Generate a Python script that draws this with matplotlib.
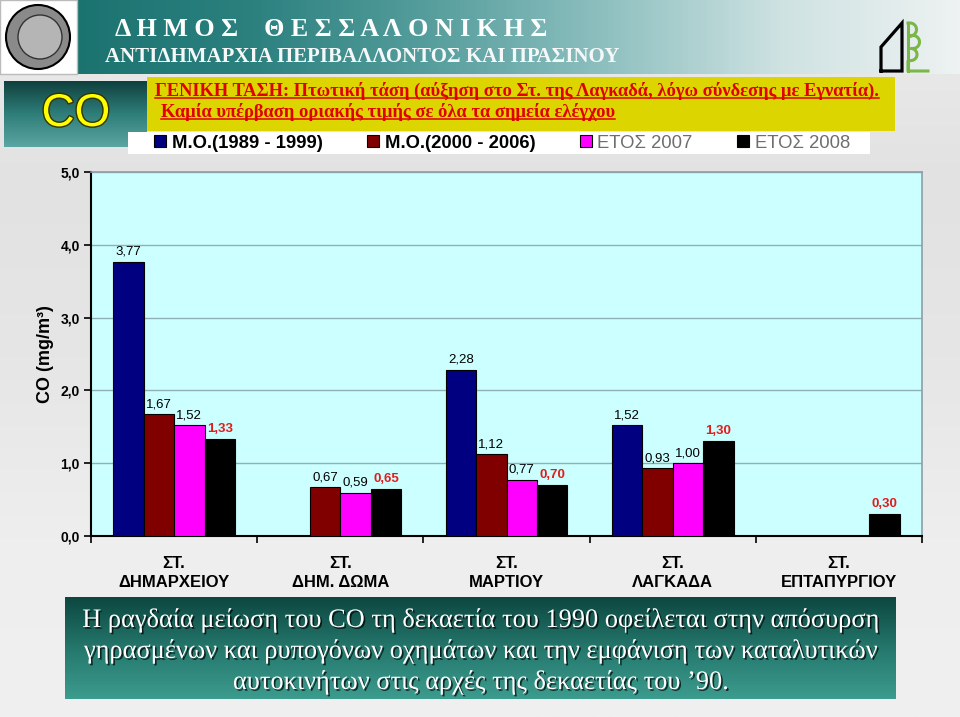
import matplotlib
matplotlib.use("Agg")
import matplotlib.pyplot as plt
import matplotlib.patheffects as pe
from matplotlib.patches import Rectangle, Circle, PathPatch
from matplotlib.colors import LinearSegmentedColormap
from matplotlib.textpath import TextPath
from matplotlib.font_manager import FontProperties
from matplotlib.transforms import Affine2D
import numpy as np

plt.rcParams['font.family'] = ['Liberation Sans', 'DejaVu Sans']

# -------------------------
# data
# -------------------------
stations = ["ΣΤ.\nΔΗΜΑΡΧΕΙΟΥ", "ΣΤ.\nΔΗΜ. ΔΩΜΑ", "ΣΤ.\nΜΑΡΤΙΟΥ", "ΣΤ.\nΛΑΓΚΑΔΑ", "ΣΤ.\nΕΠΤΑΠΥΡΓΙΟΥ"]
series_names = ["Μ.Ο.(1989 - 1999)", "Μ.Ο.(2000 - 2006)", "ΕΤΟΣ 2007", "ΕΤΟΣ 2008"]
mo_1989_1999 = [3.77, np.nan, 2.28, 1.52, np.nan]
mo_2000_2006 = [1.67, 0.67, 1.12, 0.93, np.nan]
year_2007 = [1.52, 0.59, 0.77, 1.00, np.nan]
year_2008 = [1.33, 0.65, 0.70, 1.30, 0.30]
y_ticks = [0, 1, 2, 3, 4, 5]

title_1 = "Δ Η Μ Ο Σ    Θ Ε Σ Σ Α Λ Ο Ν Ι Κ Η Σ"
title_2 = "ΑΝΤΙΔΗΜΑΡΧΙΑ ΠΕΡΙΒΑΛΛΟΝΤΟΣ ΚΑΙ ΠΡΑΣΙΝΟΥ"
note_1 = "ΓΕΝΙΚΗ ΤΑΣΗ: Πτωτική τάση (αύξηση στο Στ. της Λαγκαδά, λόγω σύνδεσης με Εγνατία)."
note_2 = "Καμία υπέρβαση οριακής τιμής σε όλα τα σημεία ελέγχου"
comment = ["Η ραγδαία μείωση του CO τη δεκαετία του 1990 οφείλεται στην απόσυρση",
           "γηρασμένων και ρυπογόνων οχημάτων και την εμφάνιση των καταλυτικών",
           "αυτοκινήτων στις αρχές της δεκαετίας του ’90."]

series = [mo_1989_1999, mo_2000_2006, year_2007, year_2008]
colors = ["#000080", "#800000", "#ff00ff", "#000000"]

fig = plt.figure(figsize=(9.6, 7.17), dpi=100, facecolor="#e8e8e8")

# background layer in pixel coordinates (y downwards)
bg = fig.add_axes([0, 0, 1, 1])
bg.set_zorder(0)
bg.axis("off")
bg.set_xlim(0, 960)
bg.set_ylim(717, 0)
bg.set_autoscale_on(False)


def gradient(x0, y0, x1, y1, cols, horizontal=True, z=1):
    cmap = LinearSegmentedColormap.from_list("g", cols)
    g = np.linspace(0, 1, 256)
    arr = g[None, :] if horizontal else g[:, None]
    bg.imshow(arr, cmap=cmap, extent=(x0, x1, y1, y0), aspect="auto", zorder=z)


# page background (light grey, brighter towards the bottom)
gradient(0, 0, 960, 717, ["#ececec", "#e2e2e2", "#e6e6e6", "#eeeeee", "#f0f0f0"],
         horizontal=False, z=0)

# header banner
gradient(77, 0, 960, 74, ["#1b7370", "#2c817f", "#569e9d", "#8fc0c0", "#cfe2e2", "#eef2f2"])
bg.add_patch(Rectangle((0, 0), 77, 74, facecolor="white", edgecolor="#bbbbbb", zorder=2))
bg.add_patch(Circle((38, 37), 32, facecolor="#8a8a8a", edgecolor="black", lw=1.5, zorder=3))
bg.add_patch(Circle((40, 37), 22, facecolor="#b5b5b5", edgecolor="#333333", lw=1, zorder=3))

# CO box
gradient(4, 81, 147, 147, ["#0f403d", "#2f7e7a", "#5ba5a2"], horizontal=False)
bg.text(76, 114, "CO", fontsize=33, color="#ffff00", ha="center", va="center", zorder=4,
        path_effects=[pe.withStroke(linewidth=2, foreground="#333300")])

# yellow note box and white legend strip
bg.add_patch(Rectangle((147, 77), 748, 54, facecolor="#ddd500", edgecolor="none", zorder=2))
bg.add_patch(Rectangle((128, 132), 742, 22, facecolor="white", edgecolor="none", zorder=2))

# bottom comment box
gradient(65, 597, 896, 699, ["#0c4740", "#25776c", "#3c9c8e"], horizontal=False)

# house / tree logo
bg.plot([881, 881, 902, 902, 881], [71, 47, 23, 71, 71], color="black", lw=2.3,
        solid_joinstyle="miter", zorder=3)
tx, ty = [908], [23]
for cx, cy, r in [(910, 29.5, 6.5), (913, 42, 6.5), (911, 54.5, 6)]:
    t = np.linspace(-np.pi / 2, np.pi / 2, 30)
    tx += list(cx + r * np.cos(t))
    ty += list(cy + r * np.sin(t))
tx += [908, 908, 928]
ty += [61, 71, 71]
bg.plot(tx, ty, color="#7ab648", lw=2.2, zorder=3)
bg.plot([908, 908], [23, 71], color="#7ab648", lw=2.2, zorder=3)

renderer = fig.canvas.get_renderer()


def fit(txt, width_px):
    w = txt.get_window_extent(renderer).width
    txt.set_fontsize(txt.get_fontsize() * width_px / w)


serif = ["Liberation Serif", "DejaVu Serif"]
t = bg.text(115, 29, title_1, family=serif, fontweight="bold", color="white",
            fontsize=14, va="center", ha="left", zorder=4)
fit(t, 433)
t = bg.text(105, 57, title_2, family=serif, fontweight="bold", color="#f4f8f8",
            fontsize=14, va="center", ha="left", zorder=4)
fit(t, 516)

for s, x0, yb, w in [(note_1, 155, 96, 727), (note_2, 161, 117, 454)]:
    t = bg.text(x0, yb, s, family=serif, fontweight="bold", color="#e00000",
                fontsize=11, va="baseline", ha="left", zorder=4)
    fit(t, w)
    bb = t.get_window_extent(renderer)
    bg.plot([bb.x0, bb.x1], [yb + 2.2, yb + 2.2], color="#e00000", lw=1.1, zorder=4)

# condensed serif comment text (drawn as text paths, squeezed horizontally)
fp_serif = FontProperties(family="Liberation Serif")
cap = TextPath((0, 0), "H", size=100, prop=fp_serif).get_extents().height
sy = 17.5 / cap
sx = None
shadow = [pe.SimplePatchShadow(offset=(1.2, -1.2), shadow_rgbFace="black", alpha=0.7), pe.Normal()]
for s, yb in zip(comment, [627, 658, 689]):
    path = TextPath((0, 0), s, size=100, prop=fp_serif)
    ext = path.get_extents()
    if sx is None:
        sx = 795 / ext.width
    x0 = 480.5 - (ext.x0 + ext.width / 2) * sx
    tr = Affine2D().scale(sx, -sy).translate(x0, yb) + bg.transData
    bg.add_patch(PathPatch(path, transform=tr, facecolor="white", edgecolor="none",
                           zorder=4, path_effects=shadow))

# -------------------------
# bar chart
# -------------------------
ax = fig.add_axes([91 / 960, 1 - 536 / 717, 831 / 960, 364 / 717])
ax.set_zorder(2)
ax.set_facecolor("#ccffff")

x = np.arange(len(stations))
width = 0.1835
handles = []
for i, (vals, c) in enumerate(zip(series, colors)):
    bars = ax.bar(x + (i - 1.5) * width, vals, width, color=c, edgecolor="black",
                  linewidth=0.8, zorder=3)
    handles.append(bars)
    labels = ["" if np.isnan(v) else f"{v:.2f}".replace(".", ",") for v in vals]
    if i == 3:
        ax.bar_label(bars, labels=labels, padding=3, fontsize=9.5, color="#e41b1b",
                     fontweight="bold")
    else:
        ax.bar_label(bars, labels=labels, padding=3, fontsize=9.5, color="black")

ax.set_ylim(0, 5)
ax.set_yticks(y_ticks)
ax.set_yticklabels([f"{v:.1f}".replace(".", ",") for v in y_ticks], fontsize=10,
                   fontweight="bold")
ax.tick_params(axis="y", direction="out", length=5, width=1.2, pad=3)
ax.yaxis.grid(True, color="#8fb0b6", linewidth=1)
ax.set_axisbelow(True)

ax.set_xlim(-0.5, 4.5)
ax.set_xticks(np.arange(-0.5, 5, 1))
ax.set_xticklabels([])
ax.set_xticks(x, minor=True)
ax.set_xticklabels(stations, minor=True, fontsize=12, fontweight="bold", linespacing=1.35)
ax.tick_params(axis="x", which="major", direction="out", length=5, width=1.2)
ax.tick_params(axis="x", which="minor", length=0, pad=14.5)

ax.set_ylabel("CO (mg/m³)", fontsize=13, fontweight="bold")
ax.yaxis.set_label_coords(-0.045, 0.5)

for side in ["left", "bottom"]:
    ax.spines[side].set_color("black")
    ax.spines[side].set_linewidth(1.5)
for side in ["top", "right"]:
    ax.spines[side].set_color("#8c9ea8")
    ax.spines[side].set_linewidth(1.2)

leg = fig.legend(handles, series_names, loc="center", ncol=4, mode="expand",
                 bbox_to_anchor=(154 / 960, 1 - 154 / 717, 696 / 960, 22 / 717),
                 frameon=False, fontsize=13.3, handlelength=0.65, handleheight=0.65,
                 handletextpad=0.3, borderaxespad=0, borderpad=0)
for i, txt in enumerate(leg.get_texts()):
    if i < 2:
        txt.set_fontweight("bold")
        txt.set_color("black")
    else:
        txt.set_color("#6e6e6e")

fig.savefig("out.png", dpi=100, facecolor=fig.get_facecolor())
